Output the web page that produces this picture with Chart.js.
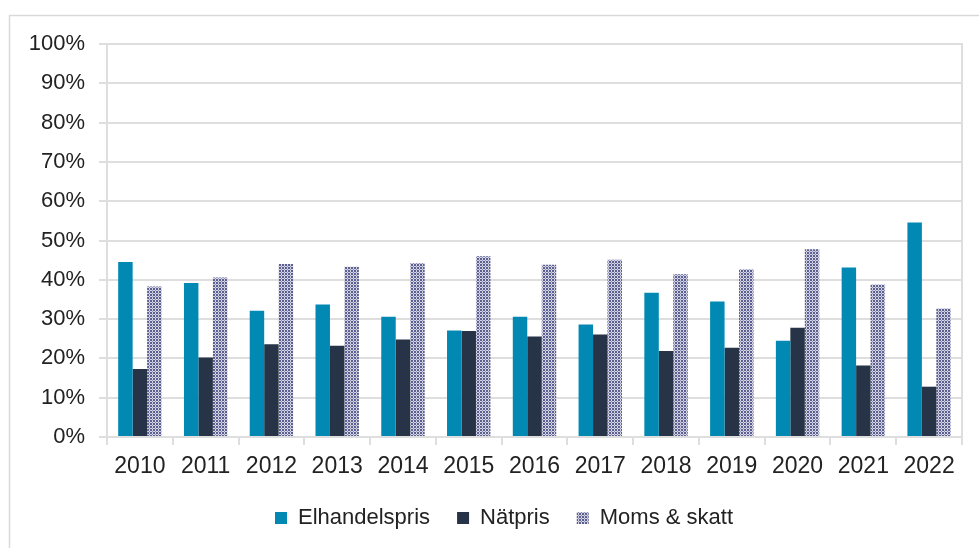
<!DOCTYPE html>
<html>
<head>
<meta charset="utf-8">
<script src="https://cdn.jsdelivr.net/npm/chart.js@4/dist/chart.umd.min.js"></script>
<style>
  html, body { margin: 0; padding: 0; background: #ffffff; }
  #wrap { width: 979px; height: 548px; position: relative; }
</style>
</head>
<body>
<div id="wrap"><canvas id="c" width="979" height="548"></canvas></div>
<script>
const years = ["2010","2011","2012","2013","2014","2015","2016","2017","2018","2019","2020","2021","2022"];
const elhandelspris = [44.5, 39.2, 32.1, 33.7, 30.6, 27.1, 30.6, 28.6, 36.7, 34.5, 24.5, 43.1, 54.6];
const natpris       = [17.3, 20.2, 23.6, 23.2, 24.8, 27.0, 25.6, 26.1, 21.9, 22.7, 27.8, 18.2, 12.8];
const momsSkatt     = [38.3, 40.6, 44.0, 43.3, 44.3, 46.0, 43.8, 45.1, 41.4, 42.7, 47.8, 38.8, 32.7];
const seriesNames = ["Elhandelspris", "Nätpris", "Moms & skatt"];
const yTicks = [0,10,20,30,40,50,60,70,80,90,100];

function makePattern() {
  const p = document.createElement('canvas');
  p.width = 3; p.height = 3;
  const g = p.getContext('2d');
  g.fillStyle = '#d4d4e2';
  g.fillRect(0, 0, 3, 3);
  g.fillStyle = '#5c6090';
  g.fillRect(0, 0, 2, 2);
  g.fillStyle = '#8f92b6';
  g.fillRect(2, 2, 1, 1);
  return document.getElementById('c').getContext('2d').createPattern(p, 'repeat');
}
const pattern = makePattern();

const FONT = "'Liberation Sans', Arial, sans-serif";
const GRID = '#dedede';
const TXT = '#222222';

const frame = {
  id: 'frame',
  beforeDraw(chart) {
    const ctx = chart.ctx;
    ctx.save();
    ctx.fillStyle = '#ffffff';
    ctx.fillRect(0, 0, chart.width, chart.height);
    ctx.strokeStyle = '#d9d9d9';
    ctx.lineWidth = 1.5;
    ctx.strokeRect(9.5, 15.5, chart.width + 20, chart.height + 20);
    ctx.restore();
  }
};

new Chart(document.getElementById('c'), {
  type: 'bar',
  data: {
    labels: years,
    datasets: [
      { label: seriesNames[0], data: elhandelspris, backgroundColor: '#0189b3', borderWidth: 0 },
      { label: seriesNames[1], data: natpris, backgroundColor: '#273347', borderWidth: 0 },
      { label: seriesNames[2], data: momsSkatt, backgroundColor: pattern, borderWidth: 0 }
    ]
  },
  plugins: [frame],
  options: {
    responsive: false,
    animation: false,
    devicePixelRatio: 1,
    layout: { padding: { left: 30, right: 1, top: 44, bottom: 9 } },
    datasets: { bar: { categoryPercentage: 0.66, barPercentage: 1.0 } },
    plugins: {
      tooltip: { enabled: false },
      legend: {
        position: 'bottom',
        labels: {
          font: { family: FONT, size: 22 },
          color: TXT,
          boxWidth: 12,
          boxHeight: 12,
          padding: 27
        }
      }
    },
    scales: {
      x: {
        grid: { display: true, drawOnChartArea: false, drawTicks: true, tickLength: 8, color: GRID, lineWidth: 2, offset: true },
        border: { display: true, color: GRID, width: 2 },
        ticks: { font: { family: FONT, size: 23 }, color: TXT, padding: 8, maxRotation: 0, autoSkip: false },
        afterFit(s) { s.height = 43; }
      },
      y: {
        min: 0, max: 100,
        afterBuildTicks(s) { s.ticks = yTicks.map(v => ({ value: v })); },
        grid: { color: GRID, lineWidth: 2, tickLength: 8 },
        border: { display: true, color: GRID, width: 2 },
        ticks: { font: { family: FONT, size: 22 }, color: TXT, padding: 14, callback: v => v + '%' },
        afterFit(s) { s.width = 77; }
      },
      y2: {
        position: 'right',
        min: 0, max: 100,
        grid: { display: false, drawOnChartArea: false },
        border: { display: true, color: GRID, width: 2 },
        ticks: { display: false },
        afterFit(s) { s.width = 16; }
      }
    }
  }
});
</script>
</body>
</html>
